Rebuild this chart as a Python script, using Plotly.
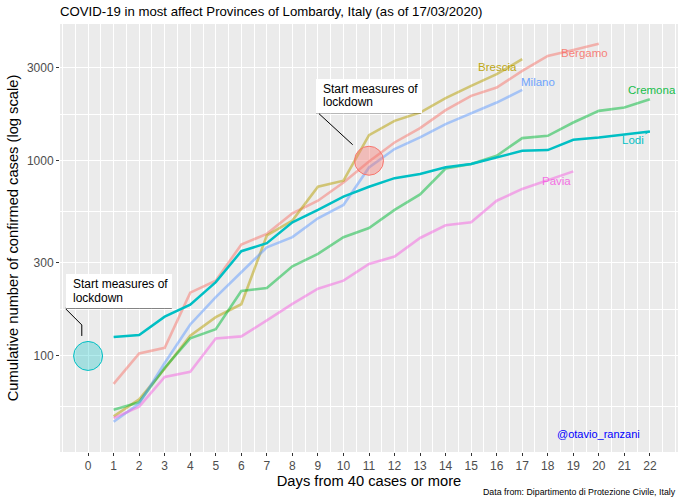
import plotly.graph_objects as go
import math

# ---------------- data ----------------
provinces = ["Bergamo", "Brescia", "Cremona", "Lodi", "Milano", "Pavia"]
bergamo = [72, 103, 110, 211, 243, 372, 422, 538, 624, 774, 990, 1240, 1470, 1816, 2149, 2370, 2885, 3442, 3694, 3978]
brescia = [49, 60, 86, 127, 158, 184, 414, 494, 736, 790, 1353, 1601, 1766, 2093, 2418, 2776, 3311]
cremona = [53, 58, 87, 123, 137, 215, 223, 288, 333, 406, 452, 560, 672, 912, 962, 1061, 1306, 1342, 1570, 1801, 1873, 2067]
lodi = [125, 128, 159, 183, 239, 344, 378, 484, 560, 655, 736, 814, 855, 926, 962, 1040, 1125, 1134, 1280, 1316, 1369, 1412]
milano = [46, 57, 92, 145, 200, 269, 360, 406, 507, 594, 924, 1148, 1316, 1540, 1745, 1986, 2307]
pavia = [48, 55, 78, 83, 123, 126, 152, 185, 221, 243, 296, 323, 402, 467, 484, 624, 717, 797, 882]
series = {"Bergamo": bergamo, "Brescia": brescia, "Cremona": cremona,
          "Lodi": lodi, "Milano": milano, "Pavia": pavia}

lockdown_days = [0, 11]
lockdown_cases = [100, 1000]
lockdown_text = "Start measures of<br>lockdown"

x_ticks = list(range(0, 23))
y_ticks = [100, 300, 1000, 3000]
y_minor = [54.77, 173.2, 547.7, 1732]

watermark_day, watermark_cases = 20, 40

# ---------------- style ----------------
colors = {"Bergamo": "#F8766D", "Brescia": "#B79F00", "Cremona": "#00BA38",
          "Lodi": "#00BFC4", "Milano": "#619CFF", "Pavia": "#F564E3"}
# label offsets from last point (pixels; y up)
label_shift = {"Bergamo": (-14, -9), "Brescia": (-25, -8), "Milano": (16, 8),
               "Cremona": (2, 9), "Pavia": (-17, -10)}
FONT = "Liberation Sans"

fig = go.Figure()

for name in provinces:
    if name == "Lodi":
        continue
    vals = series[name]
    fig.add_trace(go.Scatter(x=list(range(1, len(vals) + 1)), y=vals, mode="lines",
                             line=dict(color=colors[name], width=2.6), opacity=0.5,
                             name=name, showlegend=False, hoverinfo="skip"))
fig.add_trace(go.Scatter(x=list(range(1, len(lodi) + 1)), y=lodi, mode="lines",
                         line=dict(color=colors["Lodi"], width=2.5),
                         name="Lodi", showlegend=False, hoverinfo="skip"))

# lockdown circles
circle_cols = [colors["Lodi"], colors["Bergamo"]]
fig.add_trace(go.Scatter(x=lockdown_days, y=lockdown_cases, mode="markers",
                         marker=dict(size=29, color=["rgba(0,191,196,0.3)", "rgba(248,118,109,0.4)"],
                                     line=dict(color=circle_cols, width=1)),
                         showlegend=False, hoverinfo="skip"))

annotations = []
# series labels
for name in provinces:
    vals = series[name]
    lx, ly = len(vals), vals[-1]
    if name == "Lodi":
        annotations.append(dict(x=lx, y=math.log10(ly), xref="x", yref="y", text=name,
                                showarrow=True, ax=-17, ay=9, arrowhead=0, arrowwidth=1,
                                arrowcolor=colors[name], standoff=0,
                                font=dict(family=FONT, size=11.5, color=colors[name])))
    else:
        dx, dy = label_shift[name]
        annotations.append(dict(x=lx, y=math.log10(ly), xref="x", yref="y", text=name,
                                showarrow=False, xshift=dx, yshift=dy,
                                font=dict(family=FONT, size=11.5, color=colors[name]), opacity=0.9))

# lockdown label boxes (white box + text lines)
box_shift = [(30.7, 65), (-0.5, 65)]
for d, c, (sx, sy) in zip(lockdown_days, lockdown_cases, box_shift):
    annotations.append(dict(x=d, y=math.log10(c), xref="x", yref="y", text=" ",
                            showarrow=False, xshift=sx, yshift=sy,
                            width=106, height=34, borderpad=0, borderwidth=0,
                            bgcolor="white", font=dict(family=FONT, size=12, color="black")))
    for i, line_txt in enumerate(lockdown_text.split("<br>")):
        annotations.append(dict(x=d, y=math.log10(c), xref="x", yref="y", text=line_txt,
                                showarrow=False, xanchor="left", xshift=sx - 48,
                                yshift=sy + 6.7 - 13.3 * i,
                                font=dict(family=FONT, size=12, color="black")))

annotations.append(dict(x=watermark_day, y=math.log10(watermark_cases), xref="x", yref="y",
                        text="@otavio_ranzani", showarrow=False,
                        font=dict(family=FONT, size=11, color="#0000FF")))
annotations.append(dict(x=1, y=0, xref="paper", yref="paper", xanchor="right", yanchor="middle",
                        yshift=-40, text="Data from: Dipartimento di Protezione Civile, Italy",
                        showarrow=False, font=dict(family=FONT, size=8.8, color="black")))

# leader lines and box underlines (pixel offsets relative to circles)
leaders = ["M -22.3,47 L -6.3,31 L -6.3,20", "M -50,47 L -16.3,16"]
underlines = ["M -22.3,48 L 83.7,48", "M -53,48 L 52,48"]
shapes = []
for d, c, lp, up in zip(lockdown_days, lockdown_cases, leaders, underlines):
    for p in (lp, up):
        shapes.append(dict(type="path", xref="x", yref="y", xsizemode="pixel", ysizemode="pixel",
                           xanchor=d, yanchor=c, path=p, line=dict(color="black", width=1)))

fig.update_layout(
    width=684, height=504,
    margin=dict(l=60, r=6, t=24, b=52),
    paper_bgcolor="white", plot_bgcolor="#EBEBEB",
    font=dict(family=FONT, color="black"),
    title=dict(text="COVID-19 in most affect Provinces of Lombardy, Italy (as of 17/03/2020)",
               x=60 / 684, xanchor="left", xref="container", y=1 - 11 / 504, yanchor="middle",
               font=dict(family=FONT, size=13.2, color="black")),
    annotations=annotations, shapes=shapes, showlegend=False,
)
fig.update_xaxes(range=[-1.1, 23.1], tickmode="array", tickvals=x_ticks,
                 ticks="outside", ticklen=3, tickcolor="#333333", tickwidth=1,
                 tickfont=dict(family=FONT, size=12, color="#4D4D4D"),
                 showgrid=True, gridcolor="white", gridwidth=1.1, zeroline=False, showline=False,
                 minor=dict(dtick=0.5, tick0=0, showgrid=True, gridcolor="white", gridwidth=0.5),
                 title=dict(text="Days from 40 cases or more", standoff=1,
                            font=dict(family=FONT, size=14.7, color="black")))
fig.update_yaxes(type="log", range=[1.508, 3.7004], tickmode="array", tickvals=y_ticks,
                 ticktext=[str(v) for v in y_ticks],
                 ticks="outside", ticklen=3, tickcolor="#333333", tickwidth=1,
                 tickfont=dict(family=FONT, size=12, color="#4D4D4D"),
                 showgrid=True, gridcolor="white", gridwidth=1.1, zeroline=False, showline=False,
                 minor=dict(tickmode="array", tickvals=y_minor, showgrid=True,
                            gridcolor="white", gridwidth=0.5),
                 title=dict(text="Cumulative number of confirmed cases (log scale)", standoff=4,
                            font=dict(family=FONT, size=14.7, color="black")))

fig.write_html("out.html")
